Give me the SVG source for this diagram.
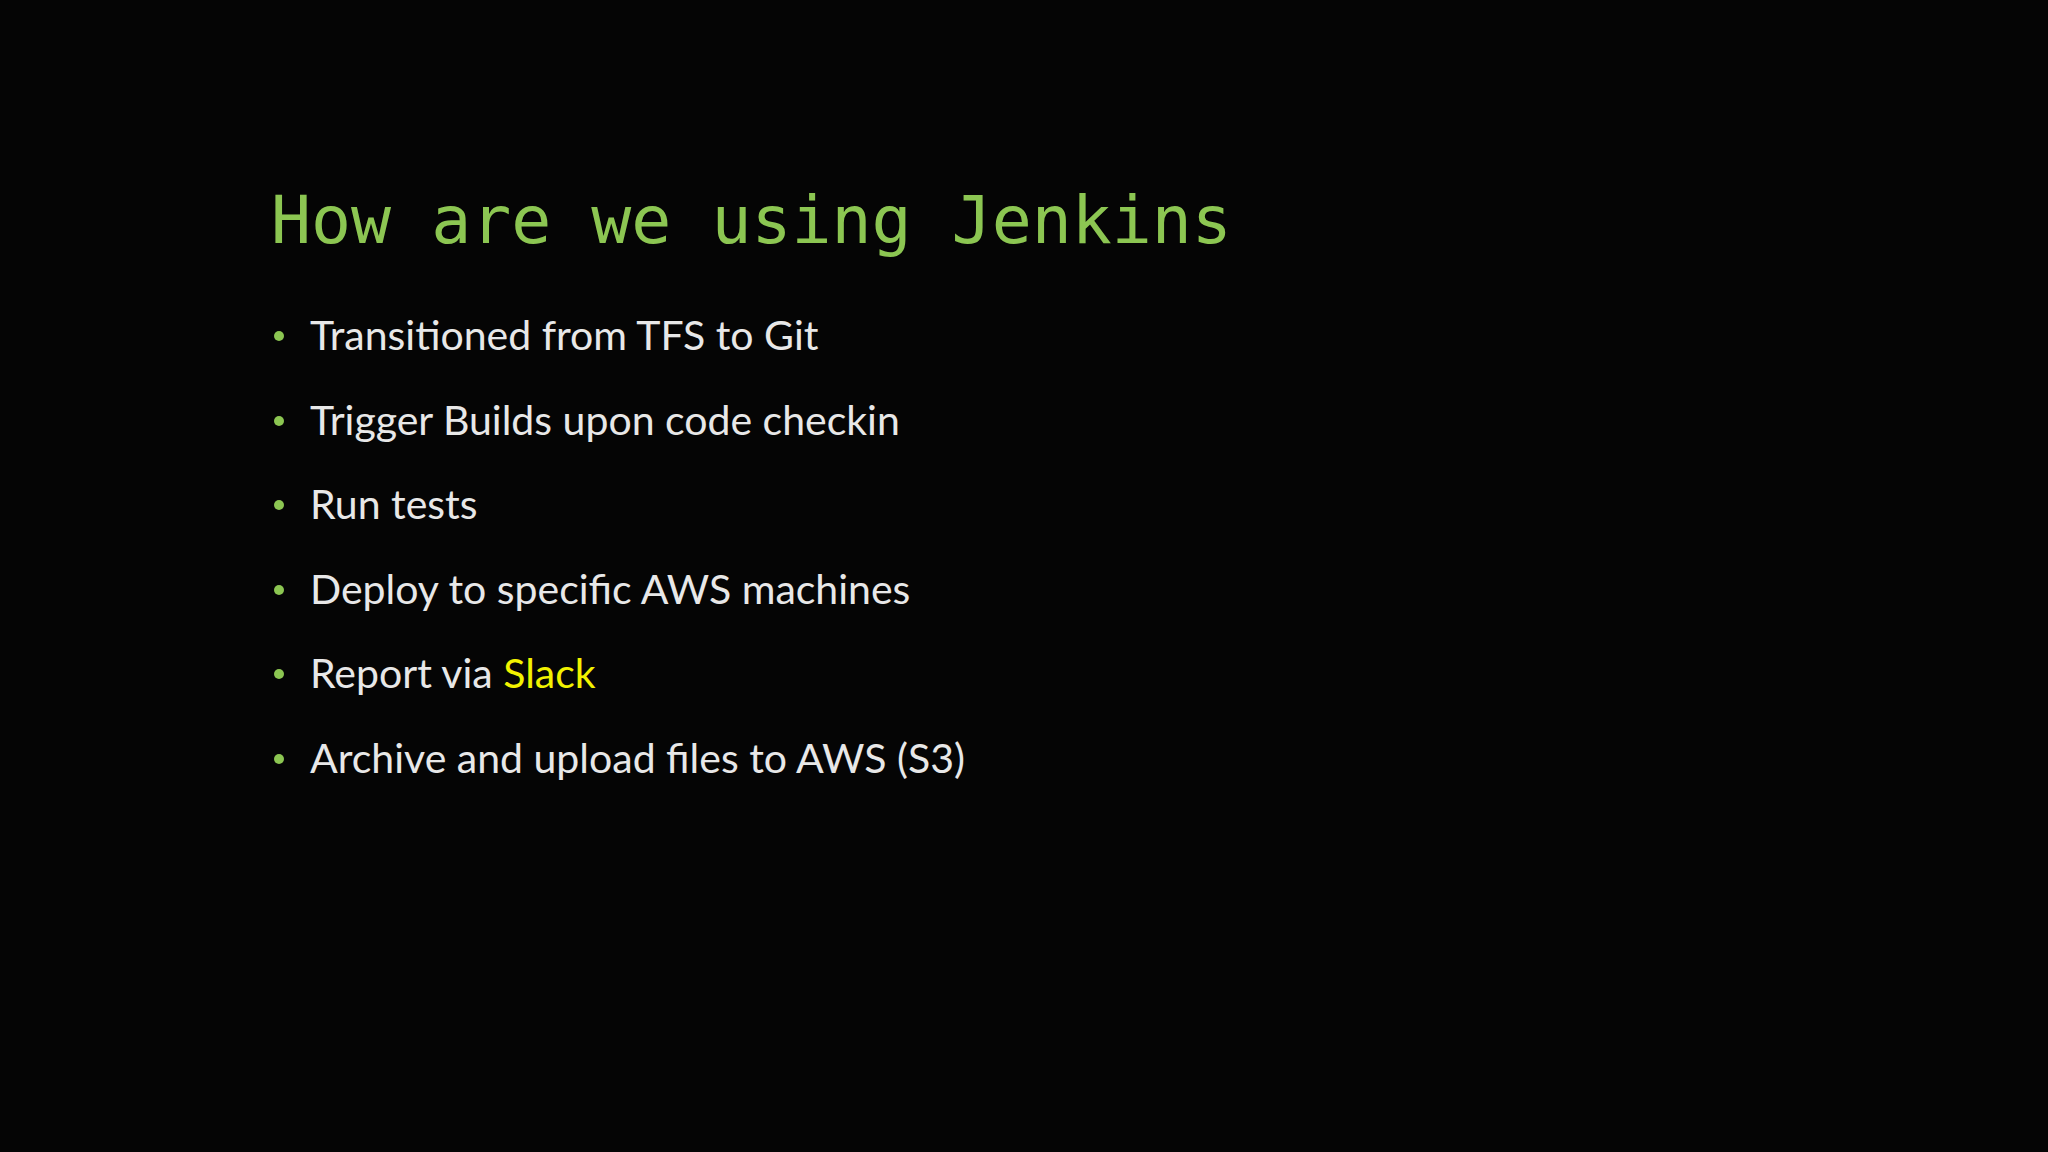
<svg xmlns="http://www.w3.org/2000/svg" width="2048" height="1152" viewBox="0 0 2048 1152">
<style>
.t{font-family:"DejaVu Sans Mono","Liberation Mono",monospace;font-size:66.5px;fill:#8cc652}
.b{font-family:Lato,"Open Sans",sans-serif;font-size:41px;fill:#e8e8e8}
.d{fill:#8cc652}
</style>
<rect width="2048" height="1152" fill="#050505"/>
<text class="t" x="271" y="243">How are we using Jenkins</text>
<g id="bullets">
<circle class="d" cx="279" cy="336" r="5"/><text class="b" x="310" y="350">Transitioned from TFS to Git</text>
<circle class="d" cx="279" cy="421" r="5"/><text class="b" x="310" y="435">Trigger Builds upon code checkin</text>
<circle class="d" cx="279" cy="505" r="5"/><text class="b" x="310" y="519">Run tests</text>
<circle class="d" cx="279" cy="590" r="5"/><text class="b" x="310" y="604">Deploy to specific AWS machines</text>
<circle class="d" cx="279" cy="674" r="5"/><text class="b" x="310" y="688">Report via <tspan fill="#f2f200">Slack</tspan></text>
<circle class="d" cx="279" cy="759" r="5"/><text class="b" x="310" y="773">Archive and upload files to AWS (S3)</text>
</g>
</svg>
